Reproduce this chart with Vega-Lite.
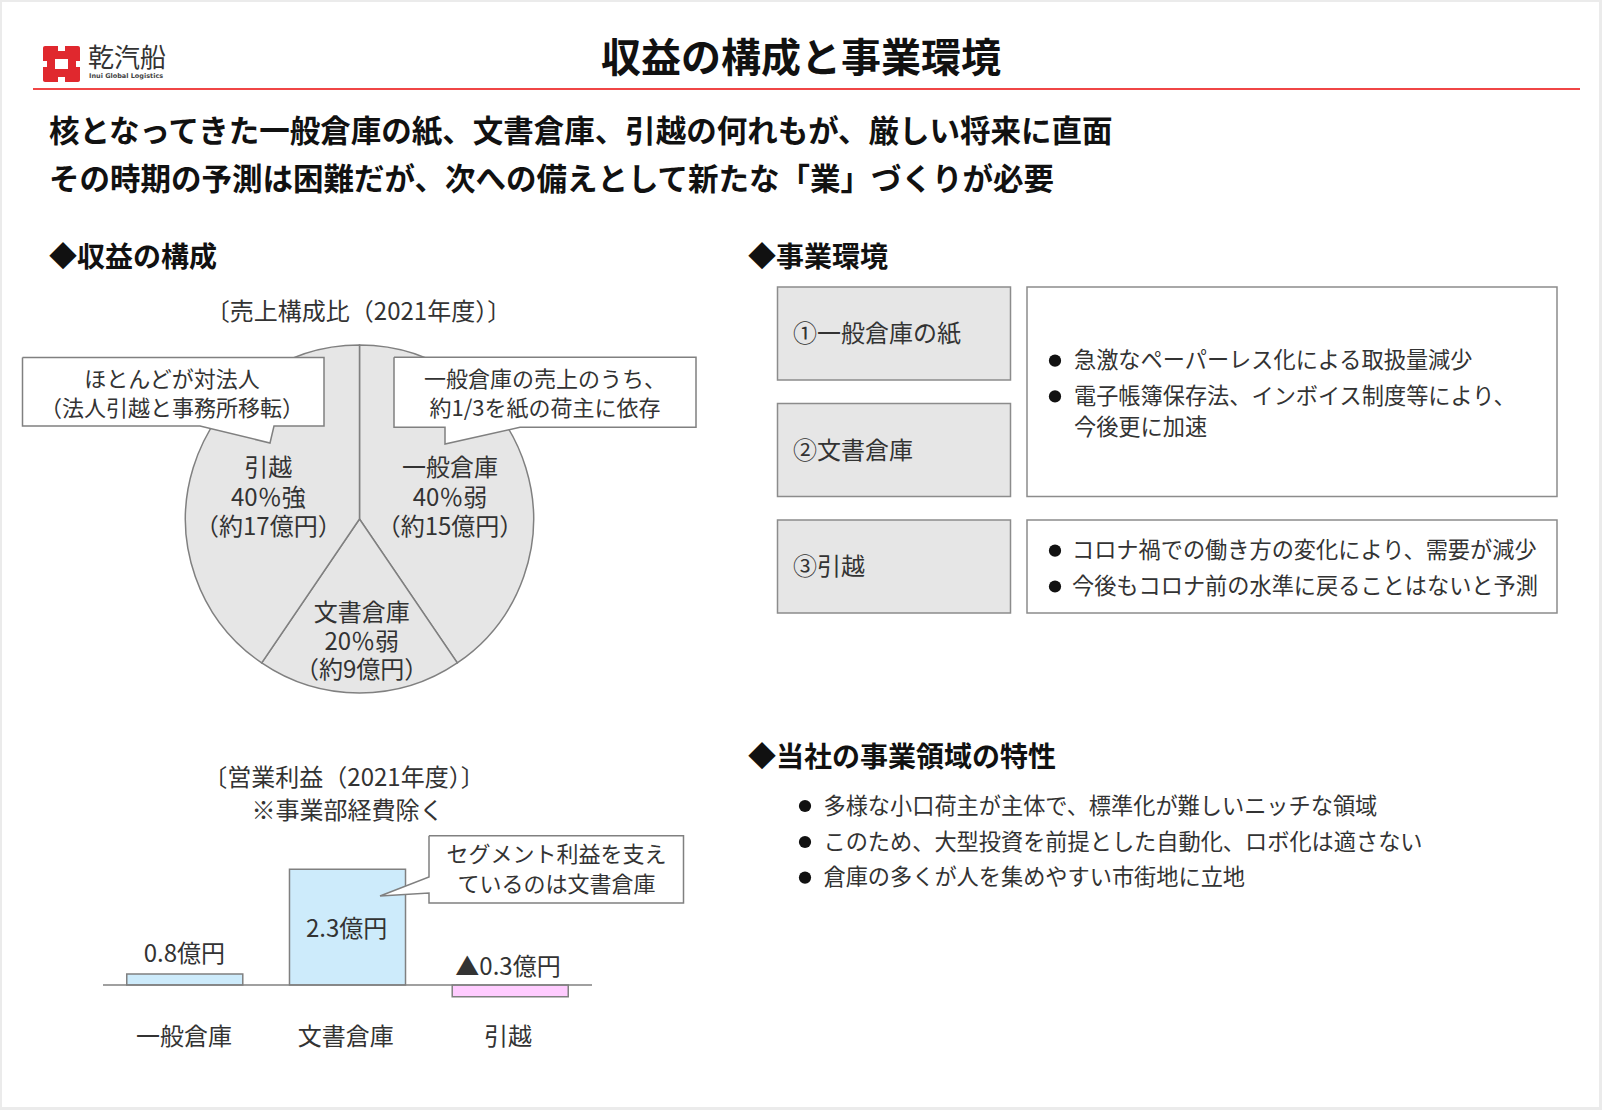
{
  "$schema": "https://vega.github.io/schema/vega-lite/v6.json",
  "width": 1602,
  "height": 1110,
  "padding": 0,
  "autosize": {"type": "none"},
  "background": "#ebebeb",
  "config": {"view": {"stroke": null}, "font": "Noto Sans CJK JP"},
  "resolve": {"scale": {"x": "independent", "y": "independent", "color": "independent"}},
  "layer": [
    {
      "encoding": {
        "x": {"field": "x", "type": "quantitative", "axis": null, "scale": {"domain": [0, 1602], "range": [0, 1602], "nice": false, "zero": false}},
        "y": {"field": "y", "type": "quantitative", "axis": null, "scale": {"domain": [0, 1110], "range": [0, 1110], "nice": false, "zero": false}}
      },
      "layer": [
        {
          "data": {"values": [{"x": 2, "y": 2, "x2": 1599, "y2": 1107}]},
          "mark": {"type": "rect", "fill": "#ffffff"},
          "encoding": {"x2": {"field": "x2"}, "y2": {"field": "y2"}}
        },
        {
          "data": {"values": [{"x": 43, "y": 46, "x2": 80, "y2": 82}]},
          "mark": {"type": "rect", "fill": "#e0282e", "cornerRadius": 2},
          "encoding": {"x2": {"field": "x2"}, "y2": {"field": "y2"}}
        },
        {
          "data": {"values": [
            {"x": 55, "y": 59, "x2": 68, "y2": 69},
            {"x": 58, "y": 46, "x2": 65, "y2": 51},
            {"x": 58, "y": 77, "x2": 65, "y2": 82},
            {"x": 43, "y": 61, "x2": 47, "y2": 67},
            {"x": 76, "y": 61, "x2": 80, "y2": 67}
          ]},
          "mark": {"type": "rect", "fill": "#ffffff"},
          "encoding": {"x2": {"field": "x2"}, "y2": {"field": "y2"}}
        },
        {
          "data": {"values": [{"x": 33, "y": 89, "x2": 1580}]},
          "mark": {"type": "rule", "stroke": "#f04646", "strokeWidth": 2},
          "encoding": {"x2": {"field": "x2"}}
        },
        {
          "data": {"values": [
            {"x": 777.5, "y": 287, "x2": 1010.5, "y2": 380},
            {"x": 777.5, "y": 403.6, "x2": 1010.5, "y2": 496.5},
            {"x": 777.5, "y": 520, "x2": 1010.5, "y2": 613}
          ]},
          "mark": {"type": "rect", "fill": "#e6e6e6", "stroke": "#8c8c8c", "strokeWidth": 1.5},
          "encoding": {"x2": {"field": "x2"}, "y2": {"field": "y2"}}
        },
        {
          "data": {"values": [
            {"x": 1027, "y": 287, "x2": 1557, "y2": 496.5},
            {"x": 1027, "y": 520, "x2": 1557, "y2": 613}
          ]},
          "mark": {"type": "rect", "fill": "#ffffff", "stroke": "#8c8c8c", "strokeWidth": 1.5},
          "encoding": {"x2": {"field": "x2"}, "y2": {"field": "y2"}}
        }
      ]
    },
    {
      "data": {"values": [
        {"cat": "一般倉庫", "share": 40.5, "ord": 1},
        {"cat": "文書倉庫", "share": 19.0, "ord": 2},
        {"cat": "引越", "share": 40.5, "ord": 3}
      ]},
      "mark": {"type": "arc", "outerRadius": 174, "fill": "#e6e6e6", "stroke": "#808080", "strokeWidth": 1.5},
      "encoding": {
        "theta": {"field": "share", "type": "quantitative", "stack": true},
        "order": {"field": "ord", "type": "quantitative"},
        "detail": {"field": "cat", "type": "nominal"},
        "x": {"datum": 359.5, "type": "quantitative", "axis": null, "scale": {"domain": [0, 1602], "range": [0, 1602], "nice": false, "zero": false}},
        "y": {"datum": 519, "type": "quantitative", "axis": null, "scale": {"domain": [0, 1110], "range": [0, 1110], "nice": false, "zero": false}}
      }
    },
    {
      "data": {"values": [
        {"cat": "一般倉庫", "v": 0.8},
        {"cat": "文書倉庫", "v": 2.3},
        {"cat": "引越", "v": -0.3}
      ]},
      "mark": {"type": "bar", "stroke": "#808080", "strokeWidth": 1.5},
      "encoding": {
        "x": {"field": "cat", "type": "nominal", "sort": null, "axis": null, "scale": {"range": [103, 592], "paddingInner": 0.287, "paddingOuter": 0.146}},
        "y": {"field": "v", "type": "quantitative", "axis": null, "scale": {"domain": [-0.3, 0, 0.8, 2.3], "range": [996.7, 985, 974, 869.3], "nice": false, "zero": false}},
        "color": {"field": "cat", "type": "nominal", "legend": null, "scale": {"domain": ["一般倉庫", "文書倉庫", "引越"], "range": ["#cdebfb", "#cdebfb", "#ffccff"]}}
      }
    },
    {
      "encoding": {
        "x": {"field": "x", "type": "quantitative", "axis": null, "scale": {"domain": [0, 1602], "range": [0, 1602], "nice": false, "zero": false}},
        "y": {"field": "y", "type": "quantitative", "axis": null, "scale": {"domain": [0, 1110], "range": [0, 1110], "nice": false, "zero": false}}
      },
      "layer": [
        {
          "data": {"values": [
            {"id": "a", "o": 1, "x": 22.5, "y": 357.6},
            {"id": "a", "o": 2, "x": 324, "y": 357.6},
            {"id": "a", "o": 3, "x": 324, "y": 426},
            {"id": "a", "o": 4, "x": 274, "y": 426},
            {"id": "a", "o": 5, "x": 270, "y": 443},
            {"id": "a", "o": 6, "x": 200, "y": 426},
            {"id": "a", "o": 7, "x": 22.5, "y": 426},
            {"id": "a", "o": 8, "x": 22.5, "y": 357.6},
            {"id": "b", "o": 1, "x": 394, "y": 357.3},
            {"id": "b", "o": 2, "x": 696, "y": 357.3},
            {"id": "b", "o": 3, "x": 696, "y": 427.3},
            {"id": "b", "o": 4, "x": 520, "y": 427.3},
            {"id": "b", "o": 5, "x": 445, "y": 444},
            {"id": "b", "o": 6, "x": 445, "y": 427.3},
            {"id": "b", "o": 7, "x": 394, "y": 427.3},
            {"id": "b", "o": 8, "x": 394, "y": 357.3},
            {"id": "c", "o": 1, "x": 429, "y": 835.7},
            {"id": "c", "o": 2, "x": 683.5, "y": 835.7},
            {"id": "c", "o": 3, "x": 683.5, "y": 903},
            {"id": "c", "o": 4, "x": 429, "y": 903},
            {"id": "c", "o": 5, "x": 429, "y": 893},
            {"id": "c", "o": 6, "x": 380, "y": 896},
            {"id": "c", "o": 7, "x": 429, "y": 877},
            {"id": "c", "o": 8, "x": 429, "y": 835.7}
          ]},
          "mark": {"type": "line", "fill": "#ffffff", "stroke": "#808080", "strokeWidth": 1.5, "strokeJoin": "miter"},
          "encoding": {
            "order": {"field": "o", "type": "quantitative"},
            "detail": {"field": "id", "type": "nominal"}
          }
        },
        {
          "data": {"values": [{"x": 103, "y": 985, "x2": 592}]},
          "mark": {"type": "rule", "stroke": "#808080", "strokeWidth": 1.5},
          "encoding": {"x2": {"field": "x2"}}
        },
        {
          "data": {"values": [{"t": "収益の構成と事業環境", "x": 801, "y": 60}]},
          "mark": {"type": "text", "fontSize": 40, "fontWeight": "bold", "align": "center", "baseline": "middle", "fill": "#111111"},
          "encoding": {"text": {"field": "t"}}
        },
        {
          "data": {"values": [
            {"t": "核となってきた一般倉庫の紙、文書倉庫、引越の何れもが、厳しい将来に直面", "x": 49, "y": 132.5},
            {"t": "その時期の予測は困難だが、次への備えとして新たな「業」づくりが必要", "x": 49, "y": 180.5}
          ]},
          "mark": {"type": "text", "fontSize": 30.5, "fontWeight": "bold", "align": "left", "baseline": "middle", "fill": "#111111"},
          "encoding": {"text": {"field": "t"}}
        },
        {
          "data": {"values": [
            {"t": "◆収益の構成", "x": 49, "y": 258.5},
            {"t": "◆事業環境", "x": 748, "y": 258.5},
            {"t": "◆当社の事業領域の特性", "x": 748, "y": 759}
          ]},
          "mark": {"type": "text", "fontSize": 28, "fontWeight": "bold", "align": "left", "baseline": "middle", "fill": "#111111"},
          "encoding": {"text": {"field": "t"}}
        },
        {
          "data": {"values": [
            {"t": "〔売上構成比（2021年度）〕", "x": 358.5, "y": 313},
            {"t": "引越", "x": 268.3, "y": 469},
            {"t": "40％強", "x": 268.3, "y": 499},
            {"t": "（約17億円）", "x": 268.3, "y": 528},
            {"t": "一般倉庫", "x": 450, "y": 469},
            {"t": "40％弱", "x": 450, "y": 499},
            {"t": "（約15億円）", "x": 450, "y": 528},
            {"t": "文書倉庫", "x": 361.7, "y": 614},
            {"t": "20％弱", "x": 361.7, "y": 643},
            {"t": "（約9億円）", "x": 361.7, "y": 671},
            {"t": "〔営業利益（2021年度）〕", "x": 344, "y": 778.5},
            {"t": "※事業部経費除く", "x": 347.5, "y": 812},
            {"t": "0.8億円", "x": 184.3, "y": 955},
            {"t": "2.3億円", "x": 346.7, "y": 930},
            {"t": "▲0.3億円", "x": 508, "y": 968},
            {"t": "一般倉庫", "x": 184, "y": 1038},
            {"t": "文書倉庫", "x": 345.7, "y": 1038},
            {"t": "引越", "x": 508, "y": 1038}
          ]},
          "mark": {"type": "text", "fontSize": 24, "align": "center", "baseline": "middle", "fill": "#333333"},
          "encoding": {"text": {"field": "t"}}
        },
        {
          "data": {"values": [
            {"t": "ほとんどが対法人", "x": 172, "y": 380},
            {"t": "（法人引越と事務所移転）", "x": 172, "y": 409},
            {"t": "一般倉庫の売上のうち、", "x": 545, "y": 380},
            {"t": "約1/3を紙の荷主に依存", "x": 545, "y": 409},
            {"t": "セグメント利益を支え", "x": 556.5, "y": 855},
            {"t": "ているのは文書倉庫", "x": 556.5, "y": 885}
          ]},
          "mark": {"type": "text", "fontSize": 22, "align": "center", "baseline": "middle", "fill": "#333333"},
          "encoding": {"text": {"field": "t"}}
        },
        {
          "data": {"values": [
            {"t": "①一般倉庫の紙", "x": 793, "y": 335},
            {"t": "②文書倉庫", "x": 793, "y": 451.6},
            {"t": "③引越", "x": 793, "y": 568}
          ]},
          "mark": {"type": "text", "fontSize": 24, "align": "left", "baseline": "middle", "fill": "#333333"},
          "encoding": {"text": {"field": "t"}}
        },
        {
          "data": {"values": [
            {"t": "急激なペーパーレス化による取扱量減少", "x": 1074, "y": 361},
            {"t": "電子帳簿保存法、インボイス制度等により、", "x": 1074, "y": 396.5},
            {"t": "今後更に加速", "x": 1074, "y": 427.5},
            {"t": "コロナ禍での働き方の変化により、需要が減少", "x": 1072, "y": 551},
            {"t": "今後もコロナ前の水準に戻ることはないと予測", "x": 1072, "y": 587},
            {"t": "多様な小口荷主が主体で、標準化が難しいニッチな領域", "x": 823.5, "y": 806.5},
            {"t": "このため、大型投資を前提とした自動化、ロボ化は適さない", "x": 823.5, "y": 842.5},
            {"t": "倉庫の多くが人を集めやすい市街地に立地", "x": 823.5, "y": 878}
          ]},
          "mark": {"type": "text", "fontSize": 22.2, "align": "left", "baseline": "middle", "fill": "#333333"},
          "encoding": {"text": {"field": "t"}}
        },
        {
          "data": {"values": [
            {"x": 1055, "y": 360.7},
            {"x": 1055, "y": 396.4},
            {"x": 1055, "y": 550.7},
            {"x": 1055, "y": 586.5},
            {"x": 805, "y": 806},
            {"x": 805, "y": 842},
            {"x": 805, "y": 877.6}
          ]},
          "mark": {"type": "point", "shape": "circle", "filled": true, "size": 150, "fill": "#111111", "opacity": 1}
        },
        {
          "data": {"values": [{"t": "乾汽船", "x": 88, "y": 59}]},
          "mark": {"type": "text", "fontSize": 26, "align": "left", "baseline": "middle", "fill": "#333333"},
          "encoding": {"text": {"field": "t"}}
        },
        {
          "data": {"values": [{"t": "Inui Global Logistics", "x": 89, "y": 76}]},
          "mark": {"type": "text", "font": "DejaVu Sans", "fontSize": 6.5, "fontWeight": "bold", "align": "left", "baseline": "middle", "fill": "#444444"},
          "encoding": {"text": {"field": "t"}}
        }
      ]
    }
  ]
}
